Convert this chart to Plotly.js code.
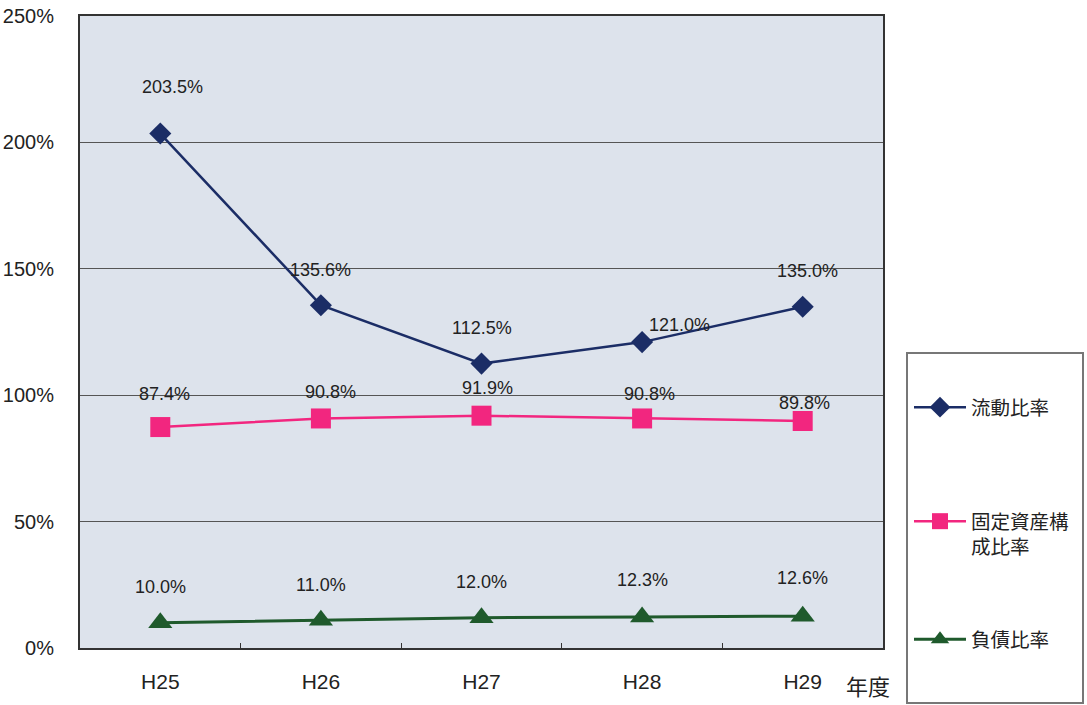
<!DOCTYPE html>
<html>
<head>
<meta charset="utf-8">
<script src="https://cdn.plot.ly/plotly-3.0.1.min.js"></script>
<style>
  html, body { margin: 0; padding: 0; background: #ffffff; }
  #chart { width: 1087px; height: 705px; }
</style>
</head>
<body>
<div id="chart"></div>
<script>
// Fiscal years (Heisei era)
const years = ['H25', 'H26', 'H27', 'H28', 'H29'];

// Ratios in percent
const currentRatio = [203.5, 135.6, 112.5, 121.0, 135.0];
const fixedAssetRatio = [87.4, 90.8, 91.9, 90.8, 89.8];
const debtRatio = [10.0, 11.0, 12.0, 12.3, 12.6];

// Legend names
const nameCurrent = '流動比率';
const nameFixed = '固定資産構<br>成比率';
const nameDebt = '負債比率';

// Axis labels
const yTickVals = [0, 50, 100, 150, 200, 250];
const yTickText = ['0%', '50%', '100%', '150%', '200%', '250%'];
const xAxisTitle = '年度';

// ---- styling ----
const NUM_FONT = 'Liberation Sans, Arial, sans-serif';
const JP_FONT = 'Noto Sans CJK JP, sans-serif';
const colors = { current: '#1b2d66', fixed: '#f2267f', debt: '#1f5a2c' };

// Pixel offsets of each value label from its marker [dx, dy]
const offsCurrent = [[12, 47], [0, 35], [0, 36], [37, 17], [5, 36]];
const offsFixed = [[4, 33], [10, 26], [6, 28], [7, 24], [2, 18]];
const offsDebt = [[0, 36], [0, 35], [0, 36], [0, 37], [0, 38]];

function labels(vals, offs) {
  return vals.map((v, i) => ({
    x: years[i], y: v, xref: 'x', yref: 'y',
    text: v.toFixed(1) + '%',
    showarrow: false,
    xshift: offs[i][0], yshift: offs[i][1],
    font: { family: NUM_FONT, size: 18, color: '#222' }
  }));
}

const traces = [
  {
    x: years, y: currentRatio, name: nameCurrent, legend: 'legend',
    type: 'scatter', mode: 'lines+markers',
    line: { color: colors.current, width: 2.5 },
    marker: { symbol: 'diamond', size: 17, color: colors.current }
  },
  {
    x: years, y: fixedAssetRatio, name: nameFixed, legend: 'legend2',
    type: 'scatter', mode: 'lines+markers',
    line: { color: colors.fixed, width: 2.5 },
    marker: { symbol: 'square', size: 20, color: colors.fixed }
  },
  {
    x: years, y: debtRatio, name: nameDebt, legend: 'legend3',
    type: 'scatter', mode: 'lines+markers',
    line: { color: colors.debt, width: 3 },
    marker: { symbol: 'triangle-up', size: 21, color: colors.debt }
  }
];

const L = 80, R = 204, T = 16, B = 57;
const W = 1087, H = 705;
const pw = W - L - R, ph = H - T - B;
const px = xp => (xp - L) / pw;          // page x -> paper x
const py = yp => (H - B - yp) / ph;      // page y -> paper y

const legendBase = {
  x: px(909), xanchor: 'left', yanchor: 'top',
  bgcolor: 'rgba(0,0,0,0)', borderwidth: 0,
  itemwidth: 52, valign: 'top',
  font: { family: JP_FONT, size: 19.5, color: '#222' }
};

const layout = {
  width: W, height: H,
  margin: { l: L, r: R, t: T, b: B, pad: 0 },
  paper_bgcolor: '#ffffff',
  plot_bgcolor: '#dde3ec',
  font: { family: NUM_FONT, color: '#222' },
  xaxis: {
    type: 'category', range: [-0.5, 4.5],
    showline: true, linecolor: '#333', linewidth: 2, mirror: true,
    ticks: 'inside', tickson: 'boundaries', ticklen: 5, tickcolor: '#333',
    showgrid: false, zeroline: false,
    tickfont: { family: NUM_FONT, size: 21, color: '#222' },
    ticklabelstandoff: 14
  },
  yaxis: {
    range: [0, 250], tickmode: 'array', tickvals: yTickVals, ticktext: yTickText,
    showline: true, linecolor: '#333', linewidth: 2, mirror: true,
    ticks: '', showgrid: true, gridcolor: '#555555', gridwidth: 1.3,
    zeroline: false,
    tickfont: { family: NUM_FONT, size: 20, color: '#222' },
    ticklabelstandoff: 20
  },
  showlegend: true,
  legend: Object.assign({}, legendBase, { y: py(388) }),
  legend2: Object.assign({}, legendBase, { y: py(502) }),
  legend3: Object.assign({}, legendBase, { y: py(620) }),
  shapes: [{
    type: 'rect', xref: 'paper', yref: 'paper', layer: 'below',
    x0: px(907), x1: px(1083), y0: py(703), y1: py(353),
    line: { color: '#777', width: 2 }, fillcolor: '#ffffff'
  }],
  annotations: [
    ...labels(currentRatio, offsCurrent),
    ...labels(fixedAssetRatio, offsFixed),
    ...labels(debtRatio, offsDebt),
    {
      x: px(868), y: py(703), xref: 'paper', yref: 'paper',
      xanchor: 'center', yanchor: 'bottom', showarrow: false,
      text: xAxisTitle,
      font: { family: JP_FONT, size: 22, color: '#222' }
    }
  ]
};

Plotly.newPlot('chart', traces, layout, { displayModeBar: false, staticPlot: true });
</script>
</body>
</html>
